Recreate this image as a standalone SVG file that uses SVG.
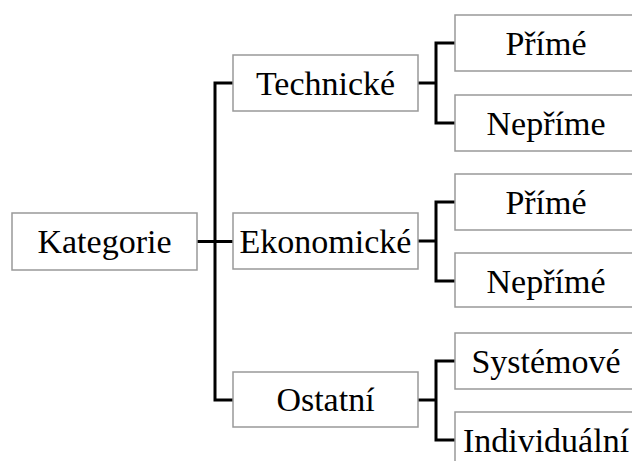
<svg xmlns="http://www.w3.org/2000/svg" width="632" height="461" viewBox="0 0 632 461" font-family="Liberation Serif, Times New Roman, Times, DejaVu Serif, serif">
  <style>
    .box { fill: #ffffff; stroke: #999999; stroke-width: 1.5; }
    .lbl { font-size: 34px; fill: #000000; text-anchor: middle; }
    .conn { fill: none; stroke: #000000; stroke-width: 3; stroke-linecap: butt; stroke-linejoin: miter; }
  </style>
  <rect width="632" height="461" fill="#ffffff"/>

  <!-- connectors -->
  <g id="connectors">
    <path class="conn" d="M197 241.5 H233"/>
    <path class="conn" d="M233 83 H215 V400 H233"/>
    <path class="conn" d="M418 83 H436"/>
    <path class="conn" d="M455 43 H436 V123 H455"/>
    <path class="conn" d="M418 241 H436"/>
    <path class="conn" d="M455 202 H436 V281 H455"/>
    <path class="conn" d="M418 400 H436"/>
    <path class="conn" d="M455 361 H436 V440 H455"/>
  </g>

  <!-- root -->
  <g id="kategorie">
    <rect class="box" x="12" y="213" width="185" height="57"/>
    <text class="lbl" x="104.5" y="253" font-family="Liberation Serif">Kategorie</text>
  </g>

  <!-- level 1 -->
  <g id="technicke">
    <rect class="box" x="233" y="55" width="185" height="56"/>
    <text class="lbl" x="325.5" y="94.5">Technické</text>
  </g>
  <g id="ekonomicke">
    <rect class="box" x="233" y="213" width="185" height="56"/>
    <text class="lbl" x="325.5" y="252.5">Ekonomické</text>
  </g>
  <g id="ostatni">
    <rect class="box" x="233" y="372" width="185" height="55"/>
    <text class="lbl" x="325.5" y="411">Ostatní</text>
  </g>

  <!-- level 2 -->
  <g id="technicke-prime">
    <rect class="box" x="455" y="15" width="182" height="56"/>
    <text class="lbl" x="546" y="54.5">Přímé</text>
  </g>
  <g id="technicke-neprime">
    <rect class="box" x="455" y="95" width="182" height="56"/>
    <text class="lbl" x="546" y="134.5">Nepříme</text>
  </g>
  <g id="ekonomicke-prime">
    <rect class="box" x="455" y="174" width="182" height="56"/>
    <text class="lbl" x="546" y="213.5">Přímé</text>
  </g>
  <g id="ekonomicke-neprime">
    <rect class="box" x="455" y="253" width="182" height="54"/>
    <text class="lbl" x="546" y="292.5">Nepřímé</text>
  </g>
  <g id="ostatni-systemove">
    <rect class="box" x="455" y="333" width="182" height="56"/>
    <text class="lbl" x="546" y="372.5">Systémové</text>
  </g>
  <g id="ostatni-individualni">
    <rect class="box" x="455" y="412" width="182" height="56"/>
    <text class="lbl" x="546" y="451.5">Individuální</text>
  </g>
</svg>
